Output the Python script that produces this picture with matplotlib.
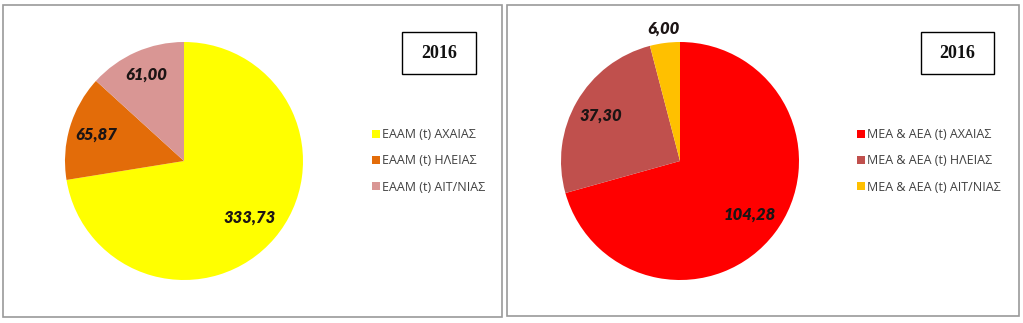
import matplotlib
matplotlib.use("Agg")
import matplotlib.pyplot as plt
from matplotlib.patches import Rectangle
import numpy as np

# ---- data ----
year_label = "2016"
left_labels = ["ΕΑΑΜ (t) ΑΧΑΙΑΣ", "ΕΑΑΜ (t) ΗΛΕΙΑΣ", "ΕΑΑΜ (t) ΑΙΤ/ΝΙΑΣ"]
left_values = [333.73, 65.87, 61.00]
left_colors = ["#FFFF00", "#E36C09", "#D99694"]

right_labels = ["ΜΕΑ & ΑΕΑ (t) ΑΧΑΙΑΣ", "ΜΕΑ & ΑΕΑ (t) ΗΛΕΙΑΣ", "ΜΕΑ & ΑΕΑ (t) ΑΙΤ/ΝΙΑΣ"]
right_values = [104.28, 37.30, 6.00]
right_colors = ["#FF0000", "#C0504D", "#FFC000"]

W, H = 1023, 323
fig = plt.figure(figsize=(W / 100, H / 100), dpi=100)
fig.patch.set_facecolor("white")


def fx(px):
    return px / W


def fy(py):
    return 1 - py / H


def frame(x0, y0, x1, y1, color="#9a9a9a", lw=1.2):
    fig.patches.append(Rectangle((fx(x0), fy(y1)), fx(x1) - fx(x0), fy(y0) - fy(y1),
                                 transform=fig.transFigure, fill=False,
                                 edgecolor=color, linewidth=lw))


# panel frames
frame(3, 5, 502, 317)
frame(507, 5, 1019, 316)


def draw_panel(cx, cy, r, values, colors, labels, label_dists, leg_x, box):
    ax = fig.add_axes([fx(cx - r), fy(cy + r), 2 * r / W, 2 * r / H])
    wedges, _ = ax.pie(values, colors=colors, startangle=90, counterclock=False,
                       radius=1.0, wedgeprops=dict(linewidth=0))
    ax.set_xlim(-1, 1)
    ax.set_ylim(-1, 1)
    ax.set_aspect("auto")
    ax.axis("off")
    for w, v, d in zip(wedges, values, label_dists):
        ang = np.deg2rad((w.theta1 + w.theta2) / 2)
        ax.text(d * np.cos(ang), d * np.sin(ang), f"{v:.2f}".replace(".", ","),
                ha="center", va="center", fontsize=12, fontweight="heavy",
                fontstyle="italic", family=["Lato", "Open Sans", "DejaVu Sans"],
                color="#1c1414", clip_on=False)
    fig.legend(wedges, labels, loc="center left",
               bbox_to_anchor=(fx(leg_x), fy(161)), frameon=False,
               handlelength=0.62, handleheight=0.62, handletextpad=0.2,
               labelspacing=1.05, borderpad=0, borderaxespad=0,
               prop=dict(family=["Open Sans", "DejaVu Sans"], size=9),
               labelcolor="#404040")
    bx0, by0, bx1, by1 = box
    frame(bx0, by0, bx1, by1, color="#000000", lw=1.0)
    fig.text(fx((bx0 + bx1) / 2), fy((by0 + by1) / 2), year_label, ha="center",
             va="center", fontsize=13, fontweight="bold",
             family=["Liberation Serif", "DejaVu Serif"], color="#111111")


draw_panel(184, 161, 119, left_values, left_colors, left_labels,
           [0.73, 0.77, 0.79], 372, (402, 32, 476, 74))
draw_panel(680, 161, 119, right_values, right_colors, right_labels,
           [0.74, 0.77, 1.12], 857, (921, 32, 994, 74))

fig.savefig("out.png", dpi=100, facecolor="white")
